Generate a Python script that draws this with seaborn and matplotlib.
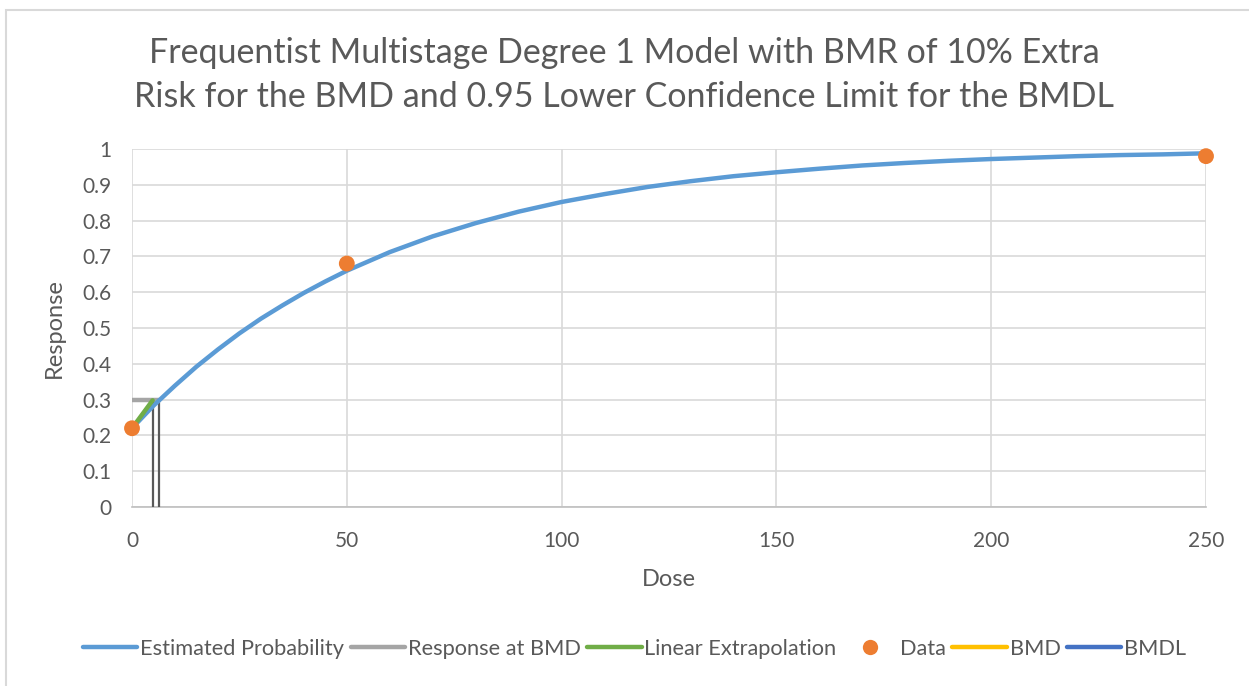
import matplotlib
matplotlib.use("Agg")
import matplotlib.pyplot as plt
from matplotlib.lines import Line2D
from matplotlib.patches import Rectangle
import seaborn as sns
import pandas as pd

# Fitted multistage degree 1 curve (dose, estimated probability)
curve_dose = [0, 5, 10, 15, 20, 25, 30, 35, 40, 45, 50, 60, 70, 80, 90, 100,
              110, 120, 130, 140, 150, 160, 170, 180, 190, 200, 210, 220, 230, 240, 250]
curve_prob = [0.220, 0.283, 0.339, 0.392, 0.440, 0.485, 0.526, 0.563, 0.598, 0.630, 0.660,
              0.712, 0.756, 0.793, 0.825, 0.852, 0.874, 0.894, 0.910, 0.924, 0.935,
              0.945, 0.954, 0.961, 0.967, 0.972, 0.976, 0.980, 0.983, 0.985, 0.988]

# Observed data
data_dose = [0, 50, 250]
data_resp = [0.22, 0.68, 0.98]

# Benchmark values
bmd = 6.35
bmdl = 4.8
bmr_response = 0.298
background = 0.22

x_ticks = [0, 50, 100, 150, 200, 250]
y_ticks = [0, 0.1, 0.2, 0.3, 0.4, 0.5, 0.6, 0.7, 0.8, 0.9, 1]
y_tick_labels = ["0", "0.1", "0.2", "0.3", "0.4", "0.5", "0.6", "0.7", "0.8", "0.9", "1"]

title = ("Frequentist Multistage Degree 1 Model with BMR of 10% Extra\n"
         "Risk for the BMD and 0.95 Lower Confidence Limit for the BMDL")

sns.set_theme(style="white")
plt.rcParams["font.family"] = ["Lato", "DejaVu Sans"]

text_col = "#595959"
c_curve = "#5B9BD5"
c_resp = "#A5A5A5"
c_lin = "#70AD47"
c_data = "#ED7D31"
c_bmd = "#FFC000"
c_bmdl = "#4472C4"

W, H = 1249, 686
fig = plt.figure(figsize=(W / 100, H / 100), dpi=100)
ax = fig.add_axes([132 / W, 1 - 507 / H, (1206 - 132) / W, (507 - 149) / H])

# light chart border (top and left edges visible)
fig.patches.append(Rectangle((6 / W, -0.05), 1.2, 1 - 10 / H + 0.05,
                             transform=fig.transFigure, fill=False,
                             edgecolor="#d9d9d9", linewidth=1.5))

curve_df = pd.DataFrame({"Dose": curve_dose, "Response": curve_prob})
data_df = pd.DataFrame({"Dose": data_dose, "Response": data_resp})

# vertical markers for BMDL and BMD
for v in (bmdl, bmd):
    ax.plot([v, v], [0, bmr_response], color="#595959", lw=1.6, zorder=3,
            solid_capstyle="butt")

ax.plot([0, bmd], [bmr_response, bmr_response], color=c_resp, lw=3.2, zorder=2,
        solid_capstyle="round")
sns.lineplot(data=curve_df, x="Dose", y="Response", ax=ax, color=c_curve, lw=3.2,
             zorder=4, sort=True)
ax.plot([0, bmdl], [background, bmr_response], color=c_lin, lw=3.2, zorder=5,
        solid_capstyle="round")
sns.scatterplot(data=data_df, x="Dose", y="Response", ax=ax, color=c_data, s=130,
                edgecolor="none", zorder=6, clip_on=False)

ax.set_xlim(0, 250)
ax.set_ylim(0, 1)
ax.set_xticks(x_ticks)
ax.set_yticks(y_ticks)
ax.set_yticklabels(y_tick_labels)
ax.grid(True, color="#d9d9d9", lw=1.2)
ax.set_axisbelow(True)
for s in ("top", "right", "left"):
    ax.spines[s].set_visible(False)
ax.spines["bottom"].set_color("#bfbfbf")
ax.spines["bottom"].set_linewidth(1.2)
ax.tick_params(axis="both", length=0, labelsize=15, colors=text_col)
ax.tick_params(axis="x", pad=17)
ax.tick_params(axis="y", pad=15)

ax.set_xlabel("Dose", fontsize=17, color=text_col, labelpad=13)
ax.set_ylabel("Response", fontsize=17, color=text_col, labelpad=12)

fig.text(0.5, 1 - 75 / H, title, ha="center", va="center", fontsize=24.5,
         color=text_col, linespacing=1.45)

handles = [
    Line2D([], [], color=c_curve, lw=3.2, solid_capstyle="round"),
    Line2D([], [], color=c_resp, lw=3.2, solid_capstyle="round"),
    Line2D([], [], color=c_lin, lw=3.2, solid_capstyle="round"),
    Line2D([], [], color=c_data, lw=0, marker="o", markersize=11, markeredgewidth=0),
    Line2D([], [], color=c_bmd, lw=3.2, solid_capstyle="round"),
    Line2D([], [], color=c_bmdl, lw=3.2, solid_capstyle="round"),
]
labels = ["Estimated Probability", "Response at BMD", "Linear Extrapolation",
          "Data", "BMD", "BMDL"]
fig.legend(handles, labels, loc="center", bbox_to_anchor=(0.508, 1 - 649 / H),
           ncol=6, frameon=False, fontsize=15.7, handlelength=2.5,
           handletextpad=0.12, columnspacing=0.3, labelcolor=text_col)

fig.savefig("out.png", dpi=100)
